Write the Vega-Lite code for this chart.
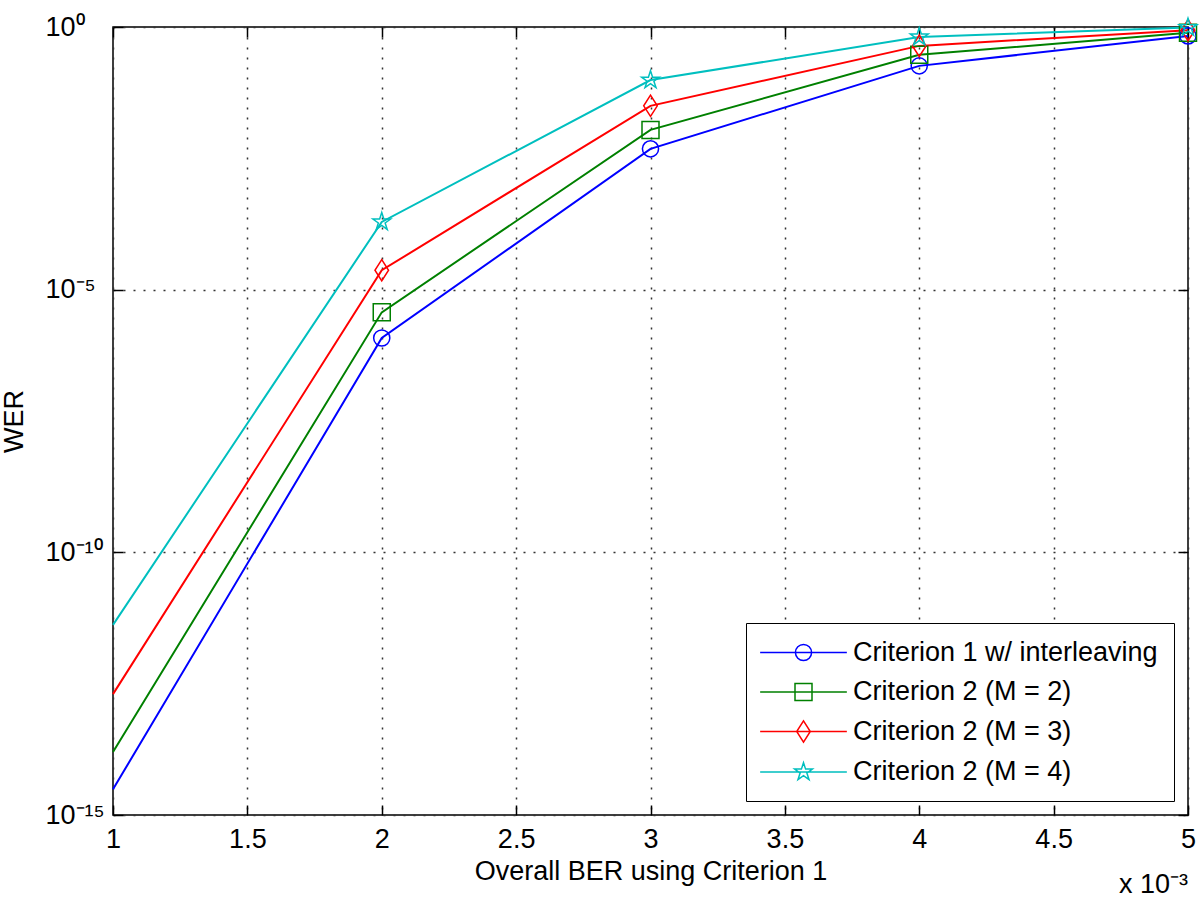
{
  "$schema": "https://vega.github.io/schema/vega-lite/v6.json",
  "width": 1075,
  "height": 788,
  "autosize": {"type": "none"},
  "padding": {"left": 113, "top": 27, "right": 12, "bottom": 90},
  "background": "white",
  "config": {
    "font": "Liberation Sans",
    "view": {"stroke": "#000", "strokeWidth": 1.5},
    "axis": {
      "labelFont": "Liberation Sans",
      "labelFontSize": 27,
      "labelColor": "#000",
      "titleFont": "Liberation Sans",
      "titleFontSize": 27,
      "titleFontWeight": "normal",
      "titleColor": "#000",
      "domain": false,
      "ticks": true,
      "tickColor": "#000",
      "tickOpacity": 1,
      "tickWidth": 1.5,
      "tickSize": 10,
      "gridColor": "#333",
      "gridDash": [2, 8],
      "gridWidth": 1.5,
      "gridOpacity": 1
    },
    "legend": {
      "orient": "bottom-right",
      "offset": 14,
      "strokeColor": "#000",
      "fillColor": "white",
      "padding": 16,
      "labelFont": "Liberation Sans",
      "labelFontSize": 27,
      "labelColor": "#000",
      "symbolSize": 289,
      "symbolStrokeWidth": 1.5,
      "symbolOffset": 28,
      "labelOffset": 36,
      "rowPadding": 11.5,
      "labelLimit": 500
    }
  },
  "title": {
    "text": "x 10⁻³",
    "orient": "bottom",
    "anchor": "end",
    "frame": "group",
    "fontSize": 27,
    "fontWeight": "normal",
    "font": "Liberation Sans",
    "color": "#000",
    "offset": -12
  },
  "data": {
    "values": [
      {"ber": 0.001, "wer": 3.09e-15, "series": "Criterion 1 w/ interleaving"},
      {"ber": 0.002, "wer": 1.2e-6, "series": "Criterion 1 w/ interleaving"},
      {"ber": 0.003, "wer": 4.79e-3, "series": "Criterion 1 w/ interleaving"},
      {"ber": 0.004, "wer": 0.182, "series": "Criterion 1 w/ interleaving"},
      {"ber": 0.005, "wer": 0.676, "series": "Criterion 1 w/ interleaving"},
      {"ber": 0.001, "wer": 1.58e-14, "series": "Criterion 2 (M = 2)"},
      {"ber": 0.002, "wer": 3.7e-6, "series": "Criterion 2 (M = 2)"},
      {"ber": 0.003, "wer": 1.1e-2, "series": "Criterion 2 (M = 2)"},
      {"ber": 0.004, "wer": 0.295, "series": "Criterion 2 (M = 2)"},
      {"ber": 0.005, "wer": 0.776, "series": "Criterion 2 (M = 2)"},
      {"ber": 0.001, "wer": 2.0e-13, "series": "Criterion 2 (M = 3)"},
      {"ber": 0.002, "wer": 2.34e-5, "series": "Criterion 2 (M = 3)"},
      {"ber": 0.003, "wer": 3.16e-2, "series": "Criterion 2 (M = 3)"},
      {"ber": 0.004, "wer": 0.437, "series": "Criterion 2 (M = 3)"},
      {"ber": 0.005, "wer": 0.871, "series": "Criterion 2 (M = 3)"},
      {"ber": 0.001, "wer": 4.17e-12, "series": "Criterion 2 (M = 4)"},
      {"ber": 0.002, "wer": 1.95e-4, "series": "Criterion 2 (M = 4)"},
      {"ber": 0.003, "wer": 9.77e-2, "series": "Criterion 2 (M = 4)"},
      {"ber": 0.004, "wer": 0.646, "series": "Criterion 2 (M = 4)"},
      {"ber": 0.005, "wer": 0.977, "series": "Criterion 2 (M = 4)"}
    ]
  },
  "layer": [
    {
      "mark": {"type": "line", "strokeWidth": 2},
      "encoding": {
        "x": {
          "field": "ber", "type": "quantitative",
          "scale": {"domain": [0.001, 0.005], "nice": false, "zero": false},
          "axis": {
            "orient": "bottom",
            "offset": -10,
            "values": [0.001, 0.0015, 0.002, 0.0025, 0.003, 0.0035, 0.004, 0.0045, 0.005],
            "labelExpr": "format(datum.value * 1000, '.2~f')",
            "labelPadding": 11,
            "labelFlush": false,
            "title": "Overall BER using Criterion 1",
            "titlePadding": 6,
            "grid": true
          }
        },
        "y": {
          "field": "wer", "type": "quantitative",
          "scale": {"type": "log", "domain": [1e-15, 1], "nice": false},
          "axis": {
            "orient": "left",
            "offset": -10,
            "values": [1e-15, 1e-10, 1e-5, 1],
            "labelExpr": "datum.value >= 0.5 ? '10⁰' : datum.value > 1e-7 ? '10⁻⁵' : datum.value > 1e-12 ? '10⁻¹⁰' : '10⁻¹⁵'",
            "labelAlign": "left",
            "labelPadding": 68,
            "labelFlush": false,
            "title": "WER",
            "titlePadding": 17,
            "grid": true
          }
        },
        "color": {
          "field": "series", "type": "nominal",
          "scale": {
            "domain": ["Criterion 1 w/ interleaving", "Criterion 2 (M = 2)", "Criterion 2 (M = 3)", "Criterion 2 (M = 4)"],
            "range": ["#0000FF", "#008000", "#FF0000", "#00BFBF"]
          },
          "legend": {"title": null}
        }
      }
    },
    {
      "transform": [{"filter": "datum.series === 'Criterion 1 w/ interleaving' && datum.ber > 0.0015"}],
      "mark": {"type": "point", "shape": "M0.95,0A0.95,0.95 0 1 1 -0.95,0A0.95,0.95 0 1 1 0.95,0Z", "size": 289, "filled": false, "stroke": "#0000FF", "strokeWidth": 1.5, "opacity": 1},
      "encoding": {
        "x": {"field": "ber", "type": "quantitative", "axis": null},
        "y": {"field": "wer", "type": "quantitative", "scale": {"type": "log", "domain": [1e-15, 1], "nice": false}, "axis": null}
      }
    },
    {
      "transform": [{"filter": "datum.series === 'Criterion 2 (M = 2)' && datum.ber > 0.0015"}],
      "mark": {"type": "point", "shape": "M-1,-1H1V1H-1Z", "size": 289, "filled": false, "stroke": "#008000", "strokeWidth": 1.5, "opacity": 1},
      "encoding": {
        "x": {"field": "ber", "type": "quantitative", "axis": null},
        "y": {"field": "wer", "type": "quantitative", "scale": {"type": "log", "domain": [1e-15, 1], "nice": false}, "axis": null}
      }
    },
    {
      "transform": [{"filter": "datum.series === 'Criterion 2 (M = 3)' && datum.ber > 0.0015"}],
      "mark": {"type": "point", "shape": "M0,-1.25L0.8,0L0,1.25L-0.8,0Z", "size": 289, "filled": false, "stroke": "#FF0000", "strokeWidth": 1.5, "opacity": 1},
      "encoding": {
        "x": {"field": "ber", "type": "quantitative", "axis": null},
        "y": {"field": "wer", "type": "quantitative", "scale": {"type": "log", "domain": [1e-15, 1], "nice": false}, "axis": null}
      }
    },
    {
      "transform": [{"filter": "datum.series === 'Criterion 2 (M = 4)' && datum.ber > 0.0015"}],
      "mark": {"type": "point", "shape": "M0,-1.1L0.247,-0.34L1.046,-0.34L0.399,0.13L0.647,0.89L0,0.42L-0.647,0.89L-0.399,0.13L-1.046,-0.34L-0.247,-0.34Z", "size": 289, "filled": false, "stroke": "#00BFBF", "strokeWidth": 1.5, "opacity": 1},
      "encoding": {
        "x": {"field": "ber", "type": "quantitative", "axis": null},
        "y": {"field": "wer", "type": "quantitative", "scale": {"type": "log", "domain": [1e-15, 1], "nice": false}, "axis": null}
      }
    },
    {
      "mark": {"type": "point", "size": 289, "filled": false, "strokeWidth": 1.5, "opacity": 0},
      "encoding": {
        "x": {
          "field": "ber", "type": "quantitative",
          "axis": {
            "orient": "top",
            "offset": -10,
            "values": [0.001, 0.0015, 0.002, 0.0025, 0.003, 0.0035, 0.004, 0.0045, 0.005],
            "labels": false, "grid": false, "title": null, "ticks": true
          }
        },
        "y": {
          "field": "wer", "type": "quantitative",
          "scale": {"type": "log", "domain": [1e-15, 1], "nice": false},
          "axis": {
            "orient": "right",
            "offset": -10,
            "values": [1e-15, 1e-10, 1e-5, 1],
            "labels": false, "grid": false, "title": null, "ticks": true
          }
        },
        "color": {
          "field": "series", "type": "nominal",
          "scale": {
            "domain": ["Criterion 1 w/ interleaving", "Criterion 2 (M = 2)", "Criterion 2 (M = 3)", "Criterion 2 (M = 4)"],
            "range": ["#0000FF", "#008000", "#FF0000", "#00BFBF"]
          },
          "legend": {"title": null}
        },
        "shape": {
          "field": "series", "type": "nominal",
          "scale": {
            "domain": ["Criterion 1 w/ interleaving", "Criterion 2 (M = 2)", "Criterion 2 (M = 3)", "Criterion 2 (M = 4)"],
            "range": [
              "M-5.1,0H5.1M0.95,0A0.95,0.95 0 1 1 -0.95,0A0.95,0.95 0 1 1 0.95,0Z",
              "M-5.1,0H5.1M-1,-1H1V1H-1Z",
              "M-5.1,0H5.1M0,-1.25L0.8,0L0,1.25L-0.8,0Z",
              "M-5.1,0H5.1M0,-1.1L0.247,-0.34L1.046,-0.34L0.399,0.13L0.647,0.89L0,0.42L-0.647,0.89L-0.399,0.13L-1.046,-0.34L-0.247,-0.34Z"
            ]
          },
          "legend": {"title": null}
        }
      }
    }
  ],
  "resolve": {"axis": {"x": "independent", "y": "independent"}}
}
